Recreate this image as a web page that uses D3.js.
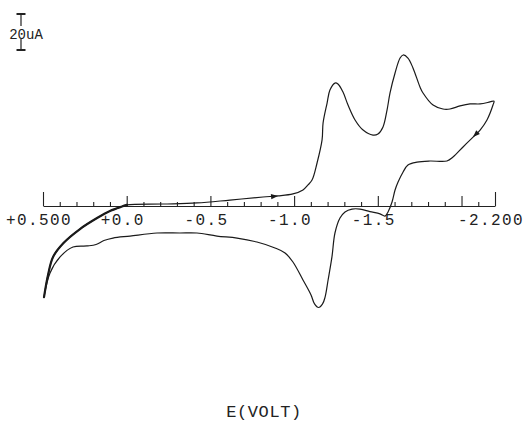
<!DOCTYPE html>
<html><head><meta charset="utf-8">
<script src="https://cdn.jsdelivr.net/npm/d3@7"></script>
<style>
html,body{margin:0;padding:0;background:#fff;}
svg{display:block;}
text{font-family:"Liberation Mono","DejaVu Sans Mono",monospace;fill:#222;}
</style></head>
<body>
<svg id="chart" width="525" height="438"></svg>
<script>
// Potential (V) and current (uA, cathodic up) along the scan
const potential = [
  0.494,0.470,0.440,0.379,0.279,0.177,0.100,0.028,-0.002,
  -0.217,-0.420,-0.617,-0.814,-0.904,-0.993,-1.053,-1.083,-1.107,-1.137,-1.167,-1.173,-1.197,-1.214,-1.244,-1.262,-1.292,-1.322,-1.364,-1.412,-1.471,-1.501,-1.531,-1.555,-1.573,-1.603,-1.633,-1.651,-1.680,-1.710,-1.752,-1.770,-1.830,-1.889,-1.931,-1.991,-2.051,-2.111,-2.170,-2.194,
  -2.188,-2.152,-2.111,-2.069,-2.009,-1.949,-1.913,-1.812,-1.734,-1.680,-1.651,-1.621,-1.603,-1.585,-1.561,-1.543,
  -1.513,-1.453,-1.394,-1.346,-1.304,-1.274,-1.244,-1.226,-1.203,-1.185,-1.170,-1.146,-1.122,-1.101,-1.053,-0.993,-0.946,-0.886,-0.778,-0.659,-0.539,-0.420,-0.318,-0.181,-0.020,0.082,0.136,0.183,0.237,0.321,0.398,0.458,0.494
];
const current = [
  -50.6,-38.3,-28.3,-20.7,-12.8,-6.7,-2.8,-0.3,0.6,
  1.1,1.7,3.3,5.0,5.6,6.7,8.9,11.7,14.4,23.9,36.7,46.1,57.2,64.4,68.3,67.8,63.3,56.1,47.8,42.2,39.4,40.0,43.9,53.3,62.8,73.9,82.2,83.9,82.2,76.7,66.1,62.8,56.1,53.9,53.9,55.6,56.7,56.7,57.8,58.3,
  56.1,47.8,42.2,38.3,32.8,27.2,25.0,25.0,24.4,22.8,18.9,13.3,8.9,2.2,-3.3,-5.6,
  -4.4,-3.1,-1.7,-1.7,-3.3,-6.7,-15.0,-28.3,-41.1,-50.6,-54.4,-56.4,-54.4,-49.4,-41.1,-31.1,-26.1,-23.3,-20.0,-17.8,-16.7,-15.0,-15.0,-15.0,-16.7,-17.8,-19.2,-21.4,-22.2,-22.8,-28.3,-37.2,-50.6
];
const minorTicks = [0.4,0.3,0.2,0.1,-0.1,-0.2,-0.3,-0.4,-0.6,-0.7,-0.8,-0.9,-1.1,-1.2,-1.3,-1.4,-1.6,-1.7,-1.8,-1.9,-2.1];
const majorTicks = [0,-0.5,-1.0,-1.5,-2.0];
const endTicks = [0.5,-2.2];
const tickLabelValues = [0.5,0,-0.5,-1.0,-1.5,-2.2];
const tickLabels = ["+0.500","+0.0","-0.5","-1.0","-1.5","-2.200"];
const scaleBarValue = 20; // uA
const scaleBarLabel = "20uA";
const axisTitle = "E(VOLT)";
const thickEnd = 8;      // index where the overlapping (thick) start trace ends
const arrowAt = [13, 52]; // arrowhead positions (indices)

const svg = d3.select("#chart");
const x = d3.scaleLinear().domain([0.5,-2.2]).range([43,495]);
const y = d3.scaleLinear().domain([0,20]).range([206,170]);
const y0 = y(0);

// axis with ticks pointing up
const gAxis = svg.append("g").attr("transform",`translate(0,${y0})`);
gAxis.call(d3.axisTop(x).tickValues(minorTicks).tickSize(4).tickSizeOuter(0).tickFormat(""));
const gMaj = svg.append("g").attr("transform",`translate(0,${y0})`)
  .call(d3.axisTop(x).tickValues(majorTicks).tickSize(10).tickFormat(""));
gMaj.select(".domain").remove();
const gEnd = svg.append("g").attr("transform",`translate(0,${y0})`)
  .call(d3.axisTop(x).tickValues(endTicks).tickSize(14).tickFormat(""));
gEnd.select(".domain").remove();
svg.selectAll(".tick line, .domain").attr("stroke","#222").attr("stroke-width",1.1);

// tick labels
svg.append("g").selectAll("text").data(tickLabelValues).join("text")
  .attr("x",d=>x(d)-4).attr("y",y0+19)
  .attr("text-anchor","middle")
  .style("font-size","16px").style("letter-spacing","1.4px")
  .text((d,i)=>tickLabels[i]);

// axis title
svg.append("text").attr("x",264).attr("y",417).attr("text-anchor","middle")
  .style("font-size","17px").style("letter-spacing","0.6px").text(axisTitle);

// scale bar
const sbTop = 14, sbBot = sbTop + (y(0)-y(scaleBarValue));
const sbX = 21;
const sb = svg.append("g").attr("stroke","#222").attr("stroke-width",1.2);
sb.append("line").attr("x1",sbX-4.5).attr("x2",sbX+4.5).attr("y1",sbTop).attr("y2",sbTop).attr("stroke-width",2);
sb.append("line").attr("x1",sbX).attr("x2",sbX).attr("y1",sbTop).attr("y2",sbTop+12);
sb.append("line").attr("x1",sbX).attr("x2",sbX).attr("y1",sbBot-11).attr("y2",sbBot);
sb.append("line").attr("x1",sbX-4.5).attr("x2",sbX+4.5).attr("y1",sbBot).attr("y2",sbBot).attr("stroke-width",2);
svg.append("text").attr("x",26).attr("y",38.5).attr("text-anchor","middle")
  .style("font-size","14px").text(scaleBarLabel);

// curve
const pts = potential.map((e,i)=>[e,current[i]]);
const line = d3.line().x(d=>x(d[0])).y(d=>y(d[1])).curve(d3.curveCatmullRom.alpha(0.5));
svg.append("path").attr("d",line(pts)).attr("fill","none").attr("stroke","#1a1a1a").attr("stroke-width",1.2).attr("stroke-linejoin","round");
svg.append("path").attr("d",line(pts.slice(0,thickEnd+1))).attr("fill","none").attr("stroke","#1a1a1a").attr("stroke-width",2.2).attr("stroke-linecap","round");

// arrowheads
arrowAt.forEach(i=>{
  const p0=[x(pts[i-1][0]),y(pts[i-1][1])], p1=[x(pts[i][0]),y(pts[i][1])], p2=[x(pts[i+1][0]),y(pts[i+1][1])];
  const ang = Math.atan2(p2[1]-p0[1], p2[0]-p0[0])*180/Math.PI;
  svg.append("path").attr("d","M0,0 L-7,-2.6 L-7,2.6 Z")
    .attr("transform",`translate(${p1[0]},${p1[1]}) rotate(${ang})`)
    .attr("fill","#1a1a1a");
});
</script>
</body></html>
